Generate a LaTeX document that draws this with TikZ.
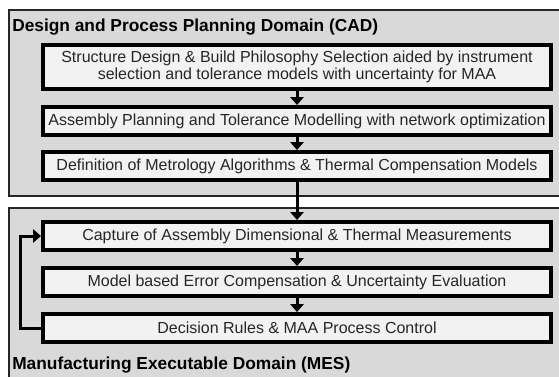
\documentclass[tikz,border=0pt]{standalone}
\usepackage{fontspec}
\setmainfont{Liberation Sans}
\usetikzlibrary{arrows.meta,positioning}

\begin{document}
\begin{tikzpicture}[
x=0.75pt,y=-0.75pt,
zone/.style={
    draw=black!85,line width=1pt,fill=black!15
},
stage/.style={
    rectangle,minimum width=381pt,minimum height=21pt,inner sep=1pt,align=center,line width=3pt,draw=black,fill=black!5,text=black!85,font=\fontsize{12}{13}\selectfont
},
title/.style={
    anchor=base west,inner sep=0pt,text=black,font=\fontsize{13}{14}\selectfont\bfseries
},
flow/.style={
    -{Triangle[width=10pt,length=6pt]},line width=2.25pt
}
]
    \useasboundingbox (0,0) rectangle (559,376);
    \draw[zone] (9,10) rectangle (570,196);
    \draw[zone] (9,208) rectangle (570,390);
    \node(T1)[title] at (12,31.5){Design and Process Planning Domain (CAD)};
    \node(T2)[title] at (12,369){Manufacturing Executable Domain (MES)};

    \node(D1)[stage,minimum height=33pt] at (297,67){Structure Design \& Build Philosophy Selection aided by instrument\\selection and tolerance models with uncertainty for MAA};
    \node(D2)[stage,below=10.5pt of D1]{Assembly Planning and Tolerance Modelling with network optimization};
    \node(D3)[stage,below=9.75pt of D2]{Definition of Metrology Algorithms \& Thermal Compensation Models};
    \node(M1)[stage,below=28.5pt of D3]{Capture of Assembly Dimensional \& Thermal Measurements};
    \node(M2)[stage,below=10.5pt of M1]{Model based Error Compensation \& Uncertainty Evaluation};
    \node(M3)[stage,below=10.5pt of M2]{Decision Rules \& MAA Process Control};
    \coordinate(loop) at (20,0);

    \draw[flow] (D1.south) -- (D2.north);
    \draw[flow] (D2.south) -- (D3.north);
    \draw[flow] (D3.south) -- (M1.north);
    \draw[flow] (M1.south) -- (M2.north);
    \draw[flow] (M2.south) -- (M3.north);
    \draw[flow] (M3.west) -- (M3.west -| loop) |- (M1.west);
\end{tikzpicture}
\end{document}
